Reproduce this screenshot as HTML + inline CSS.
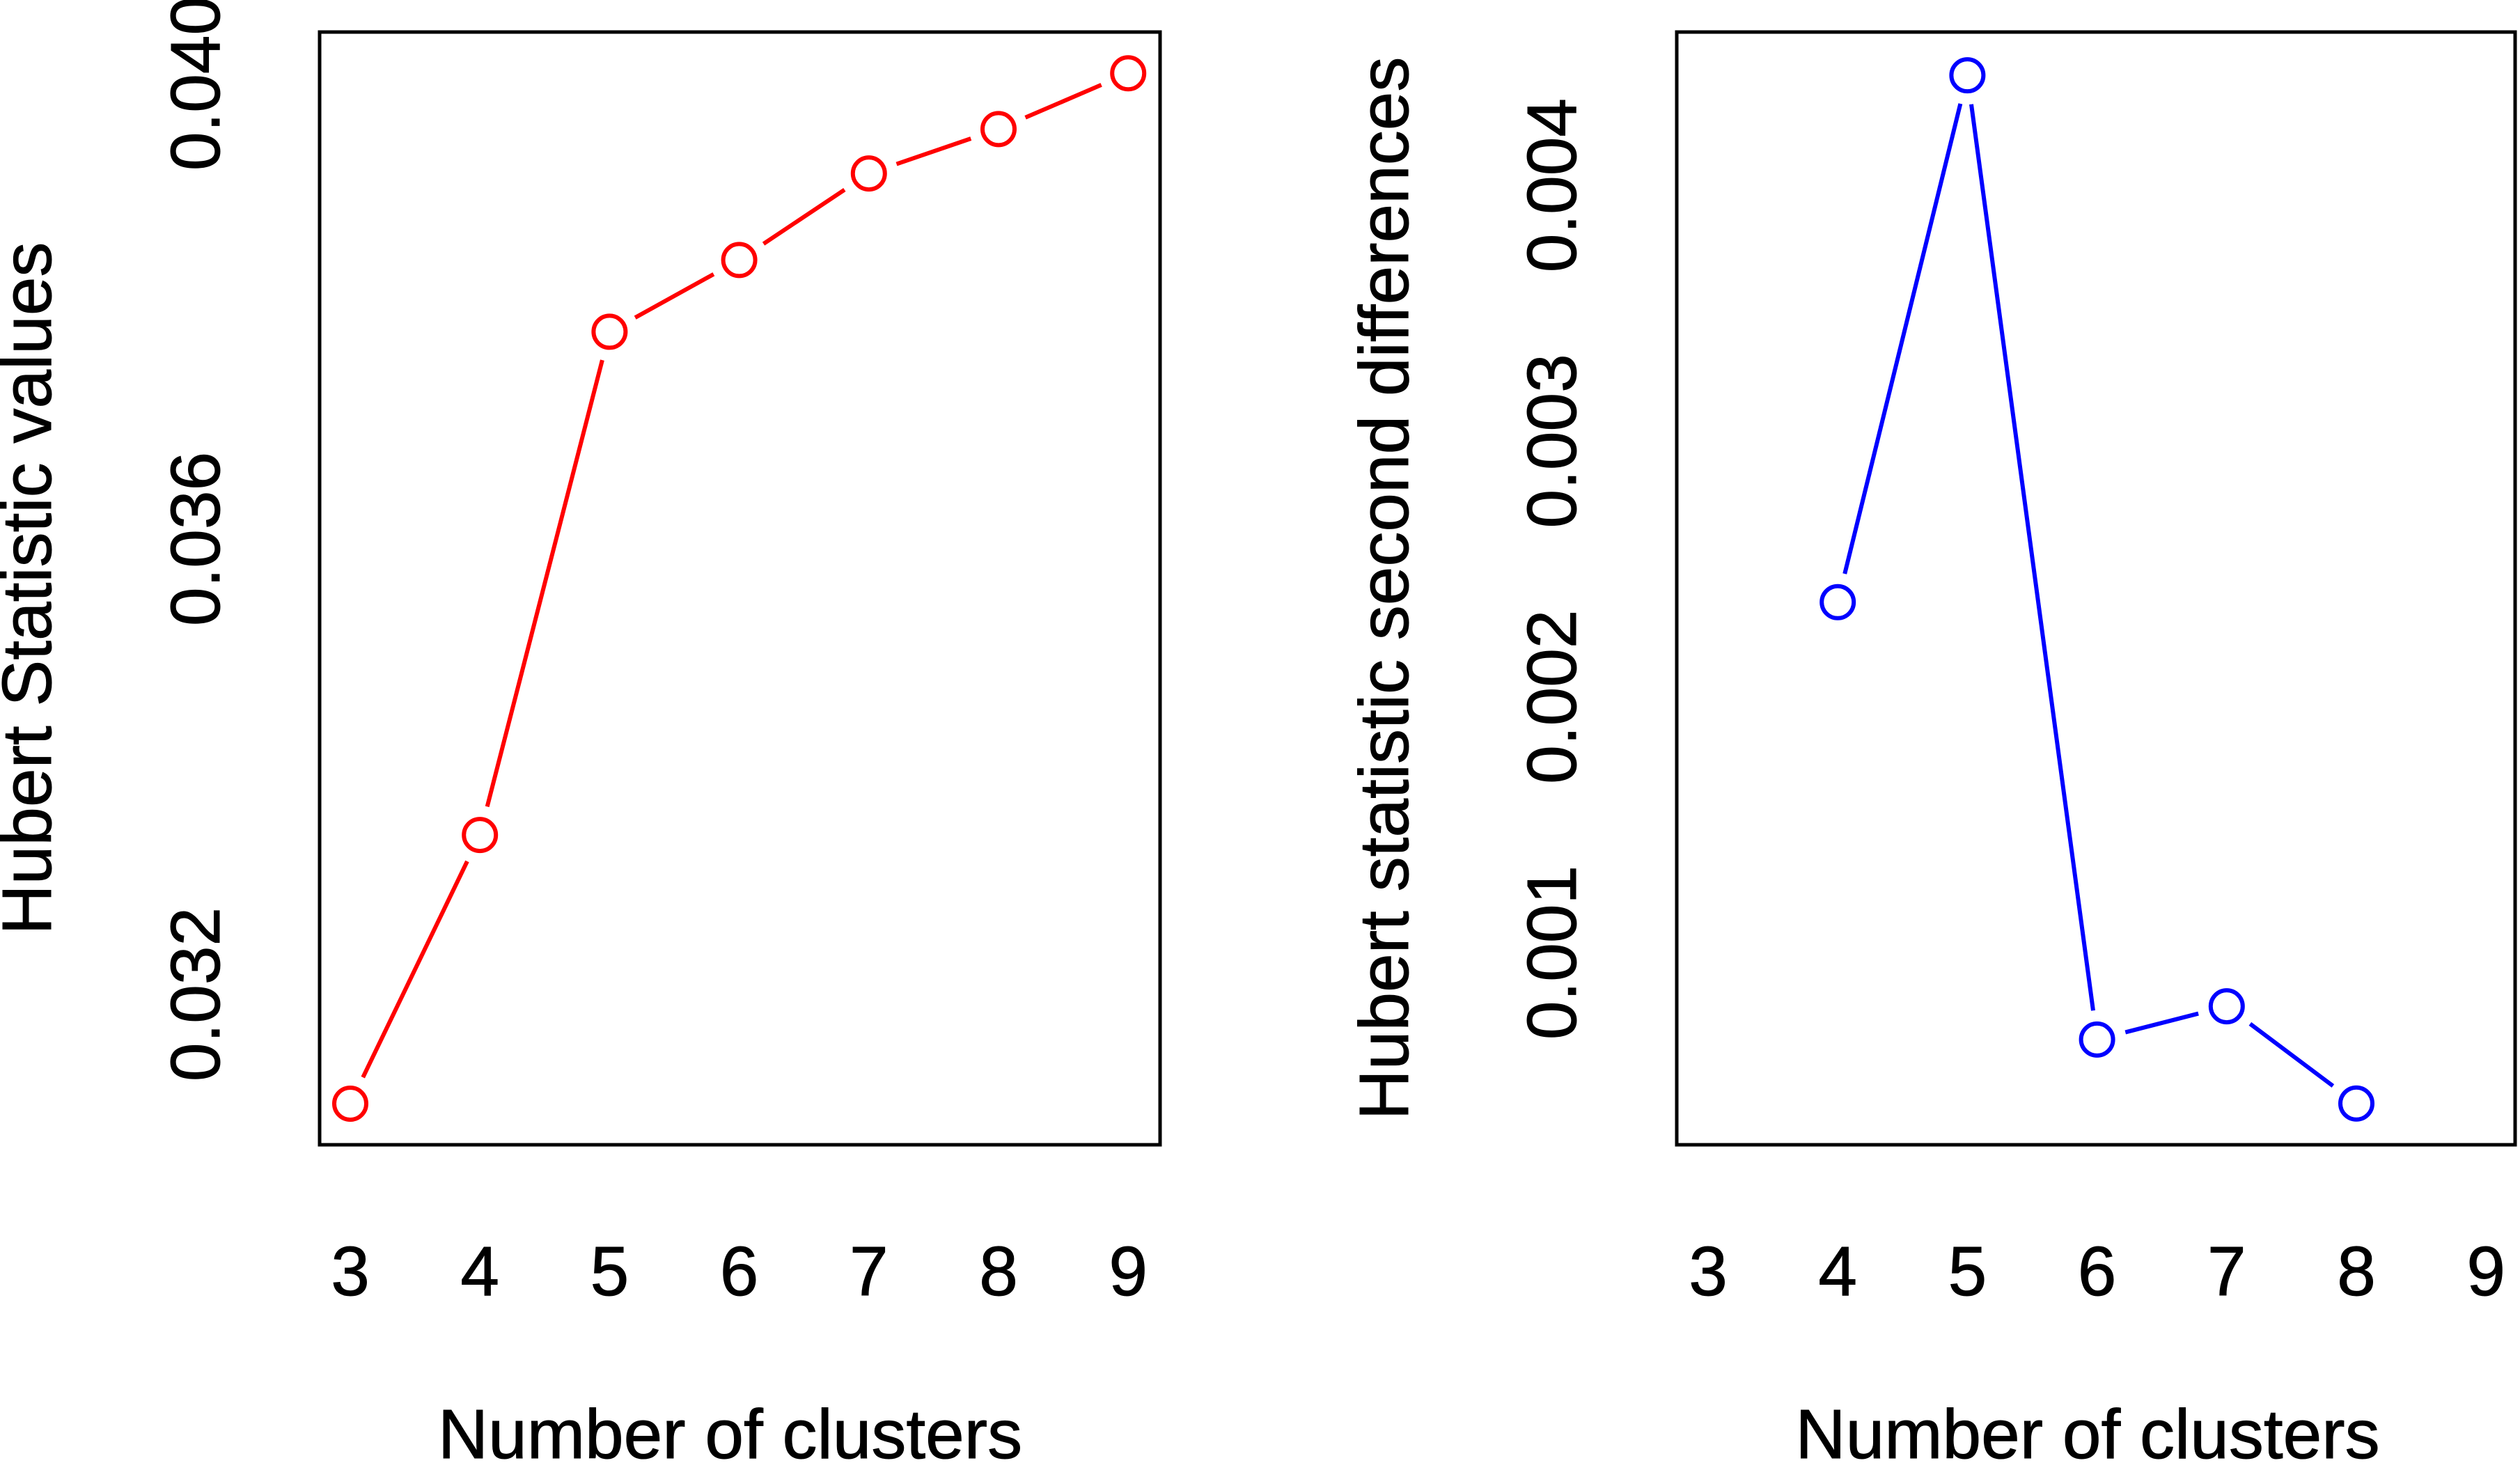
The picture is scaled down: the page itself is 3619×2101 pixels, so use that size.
<!DOCTYPE html>
<html><head><meta charset="utf-8"><style>
html,body{margin:0;padding:0;background:#fff}
svg{display:block}
text{font-family:"Liberation Sans",Arial,sans-serif;font-size:100px;fill:#000;stroke:#000;stroke-width:1}
</style></head><body>
<svg id="chart" width="3619" height="2101" viewBox="0 0 3619 2101" xmlns="http://www.w3.org/2000/svg"></svg>
<script>
const xTicks = [3,4,5,6,7,8,9];
const leftX = [3,4,5,6,7,8,9];
const leftY = [0.03104,0.03340,0.03782,0.03845,0.03921,0.03960,0.04009];
const leftYTicks = [0.032,0.036,0.040];
const leftYLabels = ["0.032","0.036","0.040"];
const rightX = [4,5,6,7,8];
const rightY = [0.00237,0.00443,0.00066,0.00079,0.00041];
const rightYTicks = [0.001,0.002,0.003,0.004];
const rightYLabels = ["0.001","0.002","0.003","0.004"];

const NS="http://www.w3.org/2000/svg";
const svg=document.getElementById('chart');
function mk(tag,attrs,parent){const e=document.createElementNS(NS,tag);for(const k in attrs)e.setAttribute(k,attrs[k]);(parent||svg).appendChild(e);return e;}

function panel(cfg){
  const g=mk('g',{});
  
  
  const xs=v=>cfg.x0+(v-3)*cfg.xStep;
  const ys=v=>cfg.yRef-(v-cfg.vRef)*cfg.yPer;
  const box=mk('rect',{x:cfg.bx0,y:46,width:cfg.bx1-cfg.bx0,height:1598,fill:'none',stroke:'#000','stroke-width':5},g);
  
  
  xTicks.forEach(t=>{
    const tx=mk('text',{x:xs(t),y:1860,'text-anchor':'middle'},g);
    tx.textContent=t;
    
    
  });
  cfg.yTicks.forEach((t,i)=>{
    const y=ys(t);
    const tx=mk('text',{x:0,y:0,'text-anchor':'middle',transform:`translate(${cfg.yLabX},${y}) rotate(-90)`},g);
    tx.textContent=cfg.yLabels[i];
    
    
  });
  const xt=mk('text',{x:(cfg.bx0+cfg.bx1)/2-cfg.xtShift,y:2094,'text-anchor':'middle'},g);
  xt.textContent='Number of clusters';
  
  
  const yt=mk('text',{x:0,y:0,'text-anchor':'middle',transform:`translate(${cfg.yTitleX},845) rotate(-90)`},g);
  yt.textContent=cfg.yTitle;
  
  
  const pts=cfg.xv.map((v,i)=>[xs(v),ys(cfg.yv[i])]);
  const gap=42;
  for(let i=0;i<pts.length-1;i++){
    const [x1,y1]=pts[i],[x2,y2]=pts[i+1];
    const d=Math.hypot(x2-x1,y2-y1);
    if(d<=2*gap)continue;
    const ux=(x2-x1)/d,uy=(y2-y1)/d;
    const l=mk('line',{x1:x1+ux*gap,y1:y1+uy*gap,x2:x2-ux*gap,y2:y2-uy*gap,stroke:cfg.color,'stroke-width':6},g);
    
    
  }
  pts.forEach(([x,y])=>{
    const c=mk('circle',{cx:x,cy:y,r:23,fill:'none',stroke:cfg.color,'stroke-width':6},g);
    
    
  });
}
panel({name:'hubert-statistic-panel',bx0:459,bx1:1666,x0:503,xStep:186.2,yRef:1428,vRef:0.032,yPer:654/0.004,
  yTicks:leftYTicks,yLabels:leftYLabels,yLabX:315,yTitleX:73,yTitle:'Hubert Statistic values',xtShift:14,
  xv:leftX,yv:leftY,color:'#ff0000'});
panel({name:'hubert-second-differences-panel',bx0:2408,bx1:3612,x0:2453,xStep:186.2,yRef:1368,vRef:0.001,yPer:367.3/0.001,
  yTicks:rightYTicks,yLabels:rightYLabels,yLabX:2263,yTitleX:2022,yTitle:'Hubert statistic second differences',xtShift:12,
  xv:rightX,yv:rightY,color:'#0000ff'});
</script>
</body></html>
